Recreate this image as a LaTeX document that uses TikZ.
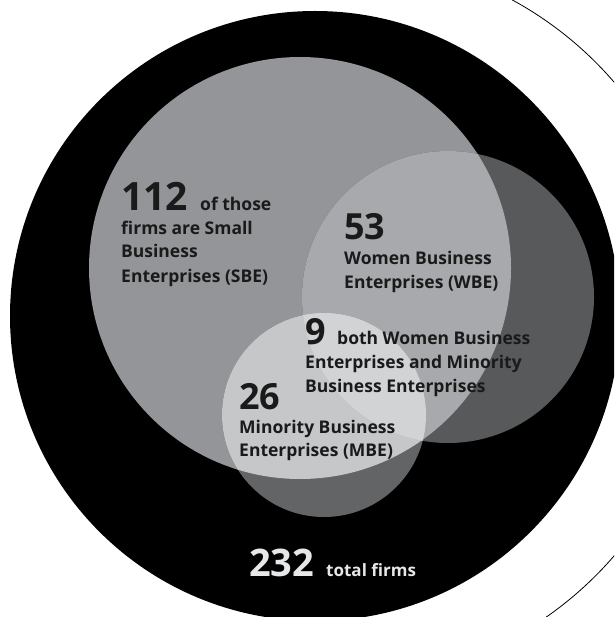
\documentclass[tikz,border=0pt]{standalone}
\usepackage{fontspec}
\setmainfont{Open Sans}
\definecolor{inkc}{HTML}{1A1A1A}
\definecolor{whitec}{HTML}{E6E7E8}
\definecolor{sbec}{HTML}{939598}
\definecolor{wbec}{HTML}{58595B}
\definecolor{wbsbc}{HTML}{A7A9AC}
\definecolor{mbec}{HTML}{636466}
\definecolor{mbsbc}{HTML}{C6C7C9}
\definecolor{mbwbc}{HTML}{B1B2B4}
\definecolor{triplec}{HTML}{D1D3D4}
\begin{document}
\begin{tikzpicture}[x=1pt,y=-1pt,
  lbl/.style={anchor=base west, inner sep=0pt, text=inkc, font=\bfseries\fontsize{17.5}{20}\selectfont},
  bignum/.style={anchor=base west, inner sep=0pt, text=inkc, font=\bfseries\fontsize{36}{38}\selectfont},
  wlbl/.style={lbl, text=whitec}]
\useasboundingbox (0,0) rectangle (614,617);
\begin{scope}
\clip (0,0) rectangle (614,617);
% outer thin arc
\begin{scope}
\clip (450,0) rectangle (614,617);
\draw[line width=0.8pt, black] (339,319) circle[radius=363];
\end{scope}
% total firms
\fill[black] (315,316) circle[radius=305];
% SBE
\fill[sbec] (300,268) circle[radius=211];
% WBE
\fill[wbec] (448,297) circle[radius=146];
\begin{scope}
  \clip (300,268) circle[radius=211];
  \fill[wbsbc] (448,297) circle[radius=146];
\end{scope}
% MBE
\fill[mbec] (324,415) circle[radius=102];
\begin{scope}
  \clip (324,415) circle[radius=102];
  \fill[mbsbc] (300,268) circle[radius=211];
  \fill[mbwbc] (448,297) circle[radius=146];
  \clip (448,297) circle[radius=146];
  \fill[triplec] (300,268) circle[radius=211];
\end{scope}
\end{scope}
% SBE text
\node[bignum, font=\bfseries\fontsize{39}{40}\selectfont] (n112) at (121,211) {112};
\node[lbl] (s1) at (200,211) {of those};
\node[lbl] (s2) at (121,235) {firms are Small};
\node[lbl] (s3) at (121,258) {Business};
\node[lbl] (s4) at (121,282) {Enterprises (SBE)};
% WBE text
\node[bignum] (n53) at (344,240) {53};
\node[lbl] (w1) at (344,264) {Women Business};
\node[lbl] (w2) at (344,288) {Enterprises (WBE)};
% both
\node[bignum] (n9) at (305,344) {9};
\node[lbl] (b1) at (337,344) {both Women Business};
\node[lbl] (b2) at (305,368) {Enterprises and Minority};
\node[lbl] (b3) at (305,392) {Business Enterprises};
% MBE text
\node[bignum] (n26) at (239,409) {26};
\node[lbl] (m1) at (239,433) {Minority Business};
\node[lbl] (m2) at (239,456) {Enterprises (MBE)};
% total
\node[bignum, text=whitec, font=\bfseries\fontsize{38}{40}\selectfont] (n232) at (249,576) {232};
\node[wlbl, font=\bfseries\fontsize{17}{18}\selectfont] (t1) at (326,576) {total firms};
\end{tikzpicture}
\end{document}
